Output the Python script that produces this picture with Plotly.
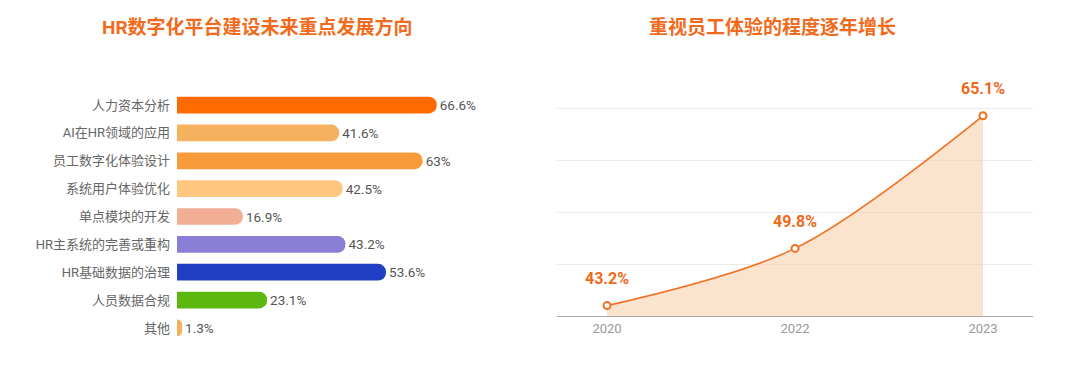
import plotly.graph_objects as go

# ---- data ----
bar_categories = ["人力资本分析", "AI在HR领域的应用", "员工数字化体验设计", "系统用户体验优化",
                  "单点模块的开发", "HR主系统的完善或重构", "HR基础数据的治理", "人员数据合规", "其他"]
bar_values = [66.6, 41.6, 63, 42.5, 16.9, 43.2, 53.6, 23.1, 1.3]
bar_labels = ["66.6%", "41.6%", "63%", "42.5%", "16.9%", "43.2%", "53.6%", "23.1%", "1.3%"]
bar_colors = ["#FF6A00", "#F6B15E", "#F99B3A", "#FFC67F", "#F2AD95",
              "#8A7ED6", "#1F3EC4", "#5CB80F", "#F4B058"]

years = ["2020", "2022", "2023"]
line_values = [43.2, 49.8, 65.1]
line_labels = ["43.2%", "49.8%", "65.1%"]

title_left = "HR数字化平台建设未来重点发展方向"
title_right = "重视员工体验的程度逐年增长"

ORANGE = "#F26A1B"
FONT = "Roboto, Noto Sans CJK SC, sans-serif"

# page has an 8px body margin; figure coords = page coords - 8
OFF = 8
W, H = 1080 - OFF, 372 - OFF

def px_x(p):
    return (p - OFF) / W

def px_y(p):
    return 1 - (p - OFF) / H

fig = go.Figure()

fig.add_trace(go.Bar(
    x=bar_values, y=bar_categories, orientation="h",
    marker=dict(color=bar_colors, line=dict(width=0)),
    text=bar_labels, textposition="outside", cliponaxis=False,
    textfont=dict(size=13.5, color="#555555", family=FONT),
    width=0.6, xaxis="x", yaxis="y", showlegend=False, hoverinfo="skip",
))

fig.add_trace(go.Scatter(
    x=years, y=line_values, mode="lines+markers",
    line=dict(color="#F07020", width=1.6, shape="spline", smoothing=0.9),
    marker=dict(size=7, color="white", line=dict(color="#F07020", width=2)),
    fill="tozeroy", fillcolor="rgba(250,200,155,0.5)",
    xaxis="x2", yaxis="y2", showlegend=False, hoverinfo="skip", cliponaxis=False,
))

annotations = [
    dict(text=f"<b>{title_left}</b>", xref="paper", yref="paper",
         x=px_x(257), y=px_y(27), showarrow=False, xanchor="center", yanchor="middle",
         font=dict(size=19, color=ORANGE, family=FONT)),
    dict(text=f"<b>{title_right}</b>", xref="paper", yref="paper",
         x=px_x(772), y=px_y(27), showarrow=False, xanchor="center", yanchor="middle",
         font=dict(size=19, color=ORANGE, family=FONT)),
]
for i, (v, lab) in enumerate(zip(line_values, line_labels)):
    annotations.append(dict(text=f"<b>{lab}</b>", x=i, y=v, xref="x2", yref="y2",
                            showarrow=False, yshift=27, xanchor="center", yanchor="middle",
                            font=dict(size=16, color="#EE6A1A", family=FONT)))

fig.update_layout(
    width=W, height=H,
    margin=dict(l=0, r=0, t=0, b=0),
    paper_bgcolor="white", plot_bgcolor="white",
    font=dict(family=FONT),
    barcornerradius=9,
    xaxis=dict(domain=[px_x(177), px_x(528)], range=[0, 90], visible=False),
    yaxis=dict(domain=[px_y(341.9), px_y(91.1)], autorange="reversed",
               type="category", showgrid=False, zeroline=False, showline=False,
               ticks="", ticklabelstandoff=6,
               tickfont=dict(size=13, color="#666666", family=FONT)),
    xaxis2=dict(domain=[px_x(557), px_x(1033)], range=[-0.266, 2.266], type="category",
                anchor="y2", showgrid=False, zeroline=False, showline=True,
                linecolor="#AAAAAA", linewidth=1, ticks="",
                tickfont=dict(size=13, color="#999999", family=FONT)),
    yaxis2=dict(domain=[px_y(316), px_y(103.67)], range=[42, 66.5], dtick=6, tick0=42,
                anchor="x2", showgrid=True, gridcolor="#EAEAEA", gridwidth=1,
                zeroline=False, showticklabels=False, showline=False),
    annotations=annotations,
)

fig.write_html("out.html")
